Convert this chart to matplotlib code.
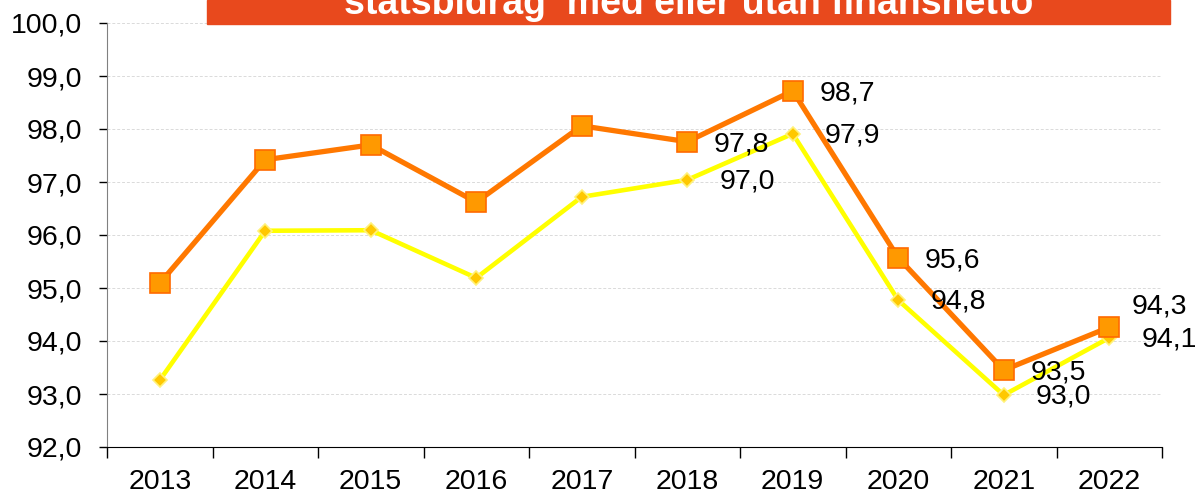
import matplotlib
matplotlib.use("Agg")
import matplotlib.pyplot as plt
from matplotlib.patches import Rectangle

plt.rcParams['font.family'] = ['Liberation Sans', 'DejaVu Sans']

# Data
years = ['2013', '2014', '2015', '2016', '2017', '2018', '2019', '2020', '2021', '2022']
med = [95.09, 97.42, 97.70, 96.62, 98.06, 97.76, 98.72, 95.57, 93.45, 94.26]
utan = [93.26, 96.08, 96.09, 95.19, 96.72, 97.04, 97.91, 94.77, 92.98, 94.06]
labelled = [5, 6, 7, 8, 9]
title = 'statsbidrag  med eller utan finansnetto'

W, H = 1197, 495
fig = plt.figure(figsize=(W / 100, H / 100), dpi=100)
ax = fig.add_axes([107 / W, (H - 447) / H, 1055 / W, (447 - 23) / H])

x = list(range(len(years)))
ax.plot(x, utan, color='#FFFF00', lw=3.3, marker='D', ms=7,
        mfc='#FFC800', mec='#FFF27A', mew=1.2, zorder=3)
ax.plot(x, med, color='#FF7800', lw=3.8, marker='s', ms=15,
        mfc='#FF9900', mec='#FF6A00', mew=1.2, zorder=4)

def fmt(v):
    return f'{v:.1f}'.replace('.', ',')

fs = 20.5
for i in labelled:
    dy = 15 if i == 9 else -2
    dx = 16 if i == 9 else 19
    ax.annotate(fmt(med[i]), (x[i], med[i]), xytext=(dx, dy), textcoords='offset points',
                ha='left', va='center', fontsize=fs, zorder=5)
    ax.annotate(fmt(utan[i]), (x[i], utan[i]), xytext=(23, -1), textcoords='offset points',
                ha='left', va='center', fontsize=fs, zorder=5, annotation_clip=False)

ax.set_xlim(-0.5, len(years) - 0.5)
ax.set_ylim(92, 100)
ax.set_yticks([92 + k for k in range(9)])
ax.set_yticklabels([fmt(92 + k) for k in range(9)], fontsize=fs)
ax.set_xticks(x)
ax.set_xticklabels(years, fontsize=fs)
ax.set_xticks([k - 0.5 for k in range(len(years) + 1)], minor=True)
ax.tick_params(axis='x', which='major', length=0, pad=16)
ax.tick_params(axis='x', which='minor', length=8, width=1, color='black')
ax.tick_params(axis='y', length=6, width=1, color='black', pad=12)
ax.grid(axis='y', color='#DADADA', ls=(0, (3, 2)), lw=0.7)
ax.set_axisbelow(True)
for s in ['top', 'right']:
    ax.spines[s].set_visible(False)
ax.spines['left'].set_color('#808080')
ax.spines['bottom'].set_color('black')

# banner title
fig.patches.append(Rectangle((207 / W, (H - 24) / H), (1170 - 207) / W, 24 / H,
                             transform=fig.transFigure, color='#E8491D', zorder=10))
fig.text(689 / W, (H - 13.5) / H, title, color='white', fontsize=27, fontweight='bold',
         ha='center', va='baseline', zorder=11)

fig.savefig('out.png', dpi=100)
